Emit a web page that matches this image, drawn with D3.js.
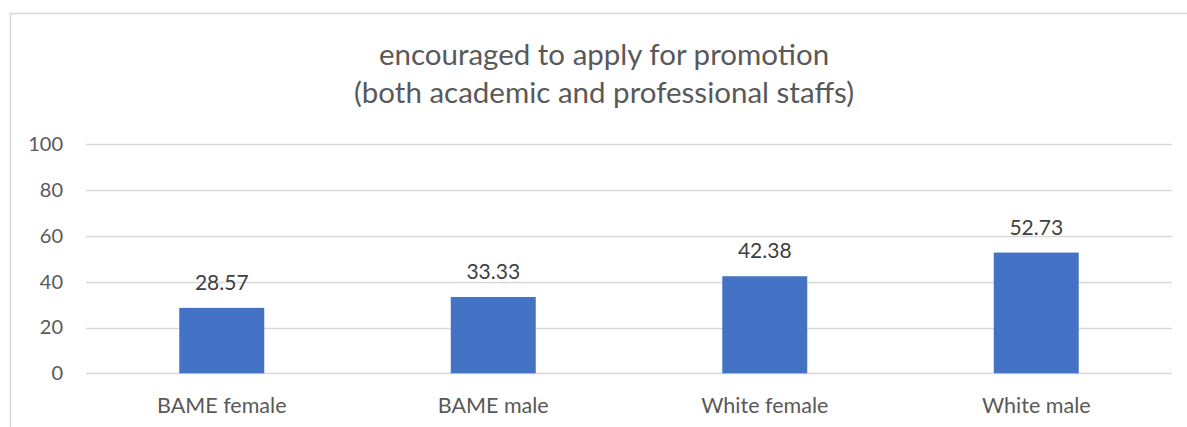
<!DOCTYPE html>
<html><head><meta charset="utf-8">
<script src="https://cdn.jsdelivr.net/npm/d3@7"></script>
<style>body{margin:0;background:#fff;}svg{display:block;}</style>
</head><body>
<script>
const categories = ["BAME female", "BAME male", "White female", "White male"];
const values = [28.57, 33.33, 42.38, 52.73];
const yTicks = [0, 20, 40, 60, 80, 100];
const titleLines = ["encouraged to apply for promotion", "(both academic and professional staffs)"];

const W = 1187, H = 427;
const font = "Lato, 'Open Sans', sans-serif";
const svg = d3.select("body").append("svg").attr("width", W).attr("height", H);

// chart border (cropped at right and bottom)
svg.append("rect").attr("x", 10.5).attr("y", 13.5).attr("width", 1300).attr("height", 500)
  .attr("fill", "none").attr("stroke", "#d9d9d9").attr("stroke-width", 1.5);

const pLeft = 86, pRight = 1172, pTop = 144.3, pBottom = 373.3;
const x = d3.scaleBand().domain(categories).range([pLeft, pRight]).paddingInner(0).paddingOuter(0);
const y = d3.scaleLinear().domain([0, 100]).range([pBottom, pTop]);

// gridlines
svg.append("g").selectAll("line").data(yTicks).join("line")
  .attr("x1", pLeft).attr("x2", pRight)
  .attr("y1", d => Math.round(y(d)) + 0.5).attr("y2", d => Math.round(y(d)) + 0.5)
  .attr("stroke", "#d9d9d9").attr("stroke-width", 1.5);

// y axis labels
const yAxis = svg.append("g").attr("transform", `translate(${pLeft - 23},0)`)
  .call(d3.axisLeft(y).tickValues(yTicks).tickSize(0).tickPadding(0));
yAxis.select(".domain").remove();
yAxis.selectAll("text").attr("fill", "#595959").style("font-family", font).style("font-size", "20px");

// bars
const barW = x.bandwidth() * 0.313;
svg.append("g").selectAll("rect").data(values).join("rect")
  .attr("x", (d, i) => x(categories[i]) + (x.bandwidth() - barW) / 2)
  .attr("width", barW)
  .attr("y", d => y(d))
  .attr("height", d => y(0) - y(d))
  .attr("fill", "#4472c4");

// data labels
svg.append("g").selectAll("text").data(values).join("text")
  .attr("x", (d, i) => x(categories[i]) + x.bandwidth() / 2)
  .attr("y", d => y(d) - 18)
  .attr("text-anchor", "middle")
  .attr("fill", "#404040")
  .style("font-family", font).style("font-size", "21px")
  .text(d => d.toFixed(2));

// x axis labels
const xAxis = svg.append("g").attr("transform", `translate(0,${pBottom})`)
  .call(d3.axisBottom(x).tickSize(0).tickPadding(24));
xAxis.select(".domain").remove();
xAxis.selectAll("text").attr("fill", "#595959").style("font-family", font).style("font-size", "21.5px");

// title
svg.append("g").selectAll("text").data(titleLines).join("text")
  .attr("x", 604).attr("y", (d, i) => 65 + i * 38)
  .attr("text-anchor", "middle").attr("fill", "#595959")
  .style("font-family", font).style("font-size", "29.5px")
  .text(d => d);
</script>
</body></html>
